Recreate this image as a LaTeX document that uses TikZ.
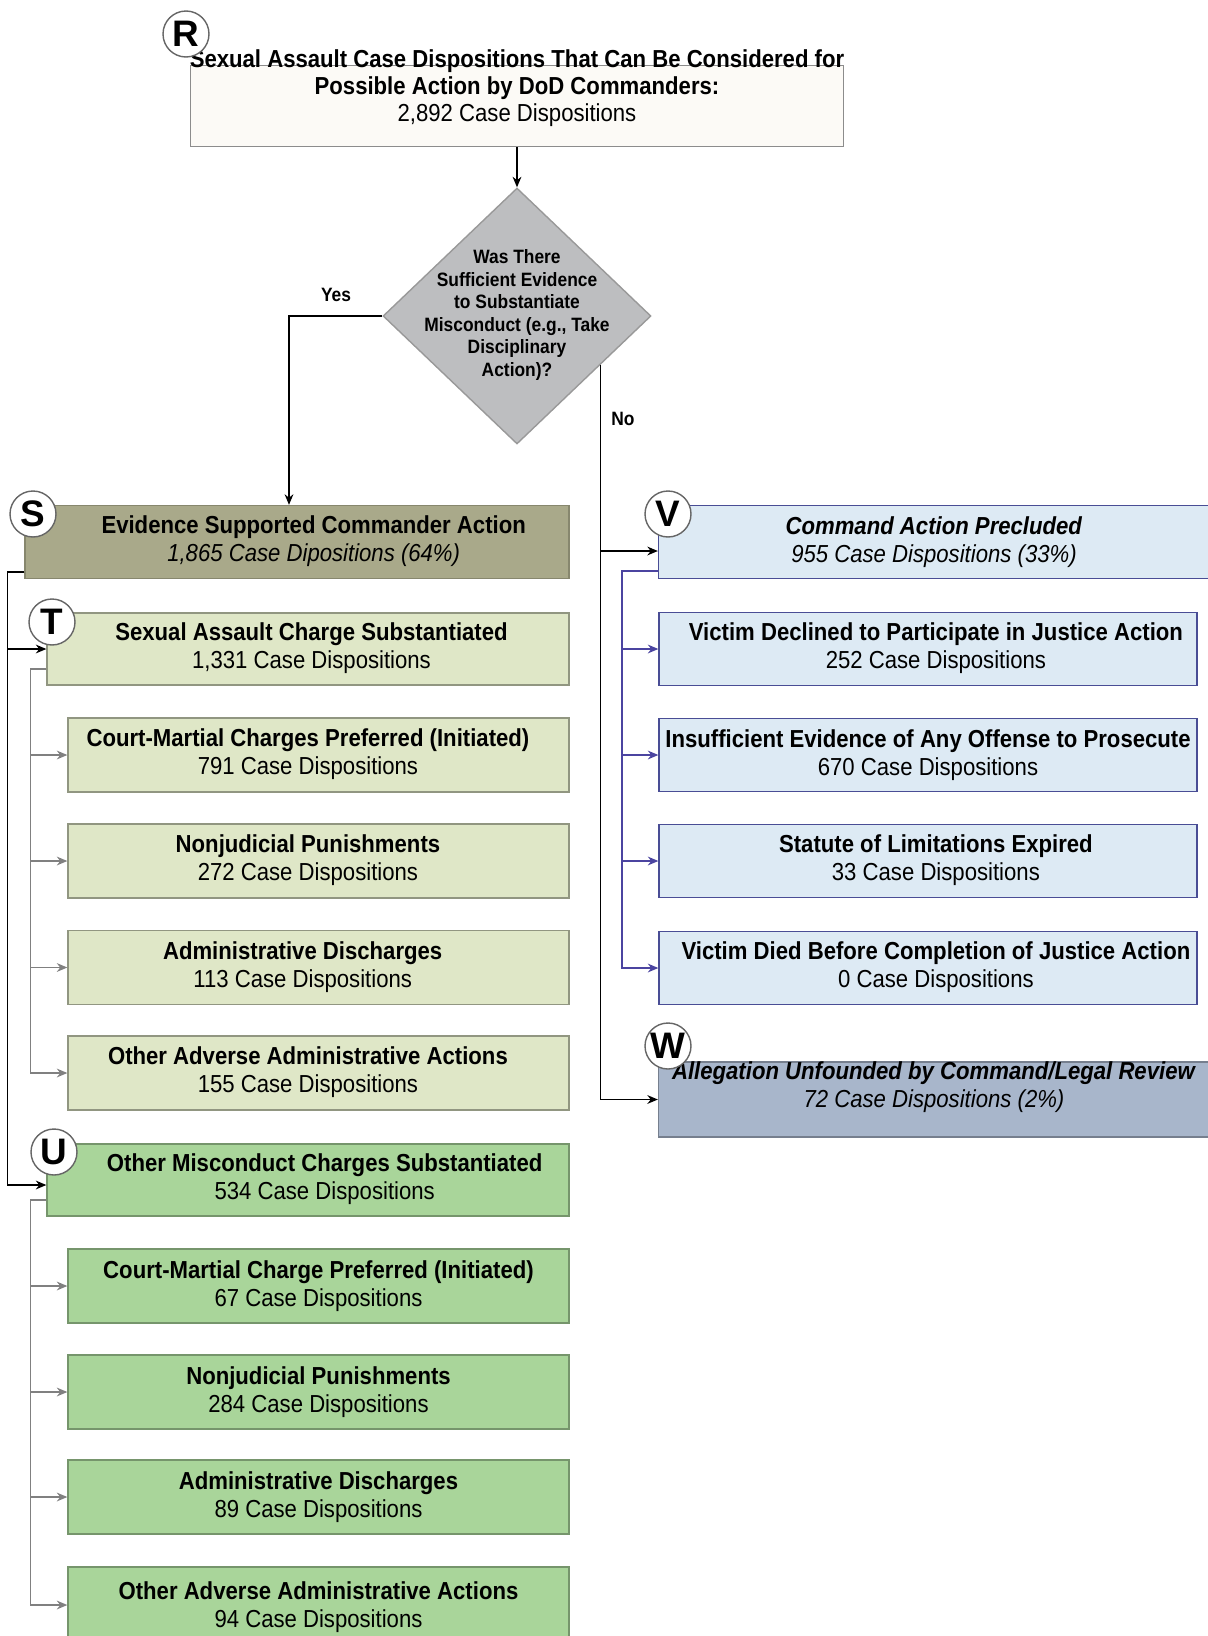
\documentclass[tikz,border=0pt]{standalone}
\usepackage{fontspec}
\setmainfont{Liberation Sans}[FakeStretch=0.9]
\newfontfamily\lettfont{Liberation Sans}
\usetikzlibrary{arrows.meta,shapes.geometric,positioning,calc}

\definecolor{rfill}{HTML}{FCFAF6}
\definecolor{dfill}{HTML}{BDBEC0}
\definecolor{sfill}{HTML}{A9A98A}
\definecolor{tfill}{HTML}{DFE7C7}
\definecolor{ufill}{HTML}{A9D59A}
\definecolor{vfill}{HTML}{DDEAF4}
\definecolor{wfill}{HTML}{A8B6CB}
\definecolor{vline}{HTML}{4B44A0}

% move the two text lines of a box sideways
\newcommand{\toright}[2]{\hspace*{#1}\begin{tabular}{@{}c@{}}#2\end{tabular}}
\newcommand{\toleft}[2]{\begin{tabular}{@{}c@{}}#2\end{tabular}\hspace*{#1}}

\begin{document}
\begin{tikzpicture}[
    x=0.02cm, y=-0.02cm,
    box/.style={draw, minimum height=1.46cm, align=center, font=\fontsize{14}{16}\selectfont, line width=0.8pt},
    txt/.style={align=center, font=\fontsize{14}{15.4}\selectfont},
    sbox/.style={box, fill=sfill, draw=sfill!80!black, minimum width=10.88cm},
    tbox/.style={box, fill=tfill, draw=tfill!65!black, minimum width=10.44cm, minimum height=1.44cm},
    tsub/.style={tbox, minimum width=10.02cm, minimum height=1.48cm},
    ubox/.style={box, fill=ufill, draw=ufill!70!black, minimum width=10.44cm, minimum height=1.44cm},
    usub/.style={ubox, minimum width=10.02cm, minimum height=1.48cm},
    vbox/.style={box, fill=vfill, draw=vfill!55!blue!60!black, minimum width=11.02cm},
    vsub/.style={vbox, minimum width=10.76cm},
    wbox/.style={box, fill=wfill, draw=wfill!70!black, minimum width=11.02cm, minimum height=1.5cm},
    dec/.style={draw=black!40, diamond, fill=dfill, inner sep=0pt, minimum width=5.36cm, minimum height=5.12cm, line width=0.8pt},
    letter/.style={draw=black!60, circle, fill=white, minimum size=0.92cm, inner sep=0pt, font=\lettfont\fontsize{21}{21}\selectfont\bfseries, line width=0.8pt},
    arr/.style={-{Stealth[length=6pt,width=5pt]}, line width=0.8pt},
    grayarr/.style={arr, draw=black!50, -{Stealth[length=6pt,width=5pt,fill=black!50]}},
    bluearr/.style={arr, draw=vline},
    lbl/.style={font=\fontsize{11}{13}\selectfont\bfseries}
]
\useasboundingbox (0,0) rectangle (1207,1636);

% top and decision
\node[box, fill=rfill, draw=black!45, minimum width=13.06cm, minimum height=1.62cm] (rtop) at (517,106) {};
\node[txt] (rtext) at (517,88)
  {\textbf{Sexual Assault Case Dispositions That Can Be Considered for}\\\textbf{Possible Action by DoD Commanders:}\\2,892 Case Dispositions};
\node[dec] (q) at (517,316) {};
\node[align=center, font=\fontsize{11}{12.9}\selectfont\bfseries] (qtext) at (517,315)
  {Was There\\Sufficient Evidence\\to Substantiate\\Misconduct (e.g., Take\\Disciplinary\\Action)?};

% evidence supported
\node[sbox] (sup) at (297,542) {\toright{19pt}{\textbf{Evidence Supported Commander Action}\\\textit{1,865 Case Dipositions (64\%)}}};
\node[tbox] (sa) at (308,649) {\toright{4pt}{\textbf{Sexual Assault Charge Substantiated}\\1,331 Case Dispositions}};
\node[tsub] (t1) at (318.5,755) {\toleft{12pt}{\textbf{Court-Martial Charges Preferred (Initiated)}\\791 Case Dispositions}};
\node[tsub] (t2) at (318.5,861) {\toleft{12pt}{\textbf{Nonjudicial Punishments}\\272 Case Dispositions}};
\node[tsub] (t3) at (318.5,967.5) {\toleft{18pt}{\textbf{Administrative Discharges}\\113 Case Dispositions}};
\node[tsub] (t4) at (318.5,1073) {\toleft{12pt}{\textbf{Other Adverse Administrative Actions}\\155 Case Dispositions}};
\node[ubox] (om) at (308,1180) {\toright{19pt}{\textbf{Other Misconduct Charges Substantiated}\\534 Case Dispositions}};
\node[usub] (u1) at (318.5,1286) {\textbf{Court-Martial Charge Preferred (Initiated)}\\67 Case Dispositions};
\node[usub] (u2) at (318.5,1392) {\textbf{Nonjudicial Punishments}\\284 Case Dispositions};
\node[usub] (u3) at (318.5,1497) {\textbf{Administrative Discharges}\\89 Case Dispositions};
\node[usub, minimum height=1.6cm] (u4) at (318.5,1607) {\textbf{Other Adverse Administrative Actions}\\94 Case Dispositions};

% precluded / unfounded
\node[vbox] (pre) at (934,542) {\textbf{\textit{Command Action Precluded}}\\\textit{955 Case Dispositions (33\%)}};
\node[vsub] (v1) at (928,649) {\toright{9pt}{\textbf{Victim Declined to Participate in Justice Action}\\252 Case Dispositions}};
\node[vsub] (v2) at (928,755) {\textbf{Insufficient Evidence of Any Offense to Prosecute}\\670 Case Dispositions};
\node[vsub] (v3) at (928,861) {\toright{9pt}{\textbf{Statute of Limitations Expired}\\33 Case Dispositions}};
\node[vsub] (v4) at (928,968) {\toright{9pt}{\textbf{Victim Died Before Completion of Justice Action}\\0 Case Dispositions}};
\node[wbox] (unf) at (934,1099.5) {};
\node[txt, font=\fontsize{14}{16}\selectfont] (unftext) at (934,1087)
  {\textbf{\textit{Allegation Unfounded by Command/Legal Review}}\\\textit{72 Case Dispositions (2\%)}};

% letters
\node[letter] (lr) at (186,34) {R};
\node[letter] (ls) at (33,514) {S};
\node[letter] (lt) at (52,622) {T};
\node[letter] (lu) at (54,1152) {U};
\node[letter] (lv) at (668,514) {V};
\node[letter] (lw) at (668,1046) {W};

% connectors
\draw[arr] (rtop) -- (q);
\draw[arr] (q.west) -| ($(sup.north)+(-8,0)$);
\node[lbl] (yes) at (336,295) {Yes};
\coordinate (nobr) at ($(q.east)!0.38!(q.south)$);
\draw[arr] (nobr) |- ($(pre.west)+(0,9)$);
\draw[arr] (nobr) |- (unf.west);
\node[lbl] (no) at (623,419) {No};

\draw[arr] ($(sup.west)+(0,30)$) -- ++(-17,0) |- (sa.west);
\draw[arr] ($(sup.west)+(0,30)$) -- ++(-17,0) |- ($(om.west)+(0,5)$);
\foreach \n in {t1,t2,t3,t4}
  \draw[grayarr] ($(sa.west)+(0,20)$) -- ++(-16,0) |- (\n.west);
\foreach \n in {u1,u2,u3}
  \draw[grayarr] ($(om.west)+(0,20)$) -- ++(-16,0) |- (\n.west);
\draw[grayarr] ($(om.west)+(0,20)$) -- ++(-16,0) |- ($(u4.west)+(0,-2)$);
\foreach \n in {v1,v2,v3,v4}
  \draw[bluearr] ($(pre.west)+(0,29)$) -- ++(-36,0) |- (\n.west);
\end{tikzpicture}
\end{document}
